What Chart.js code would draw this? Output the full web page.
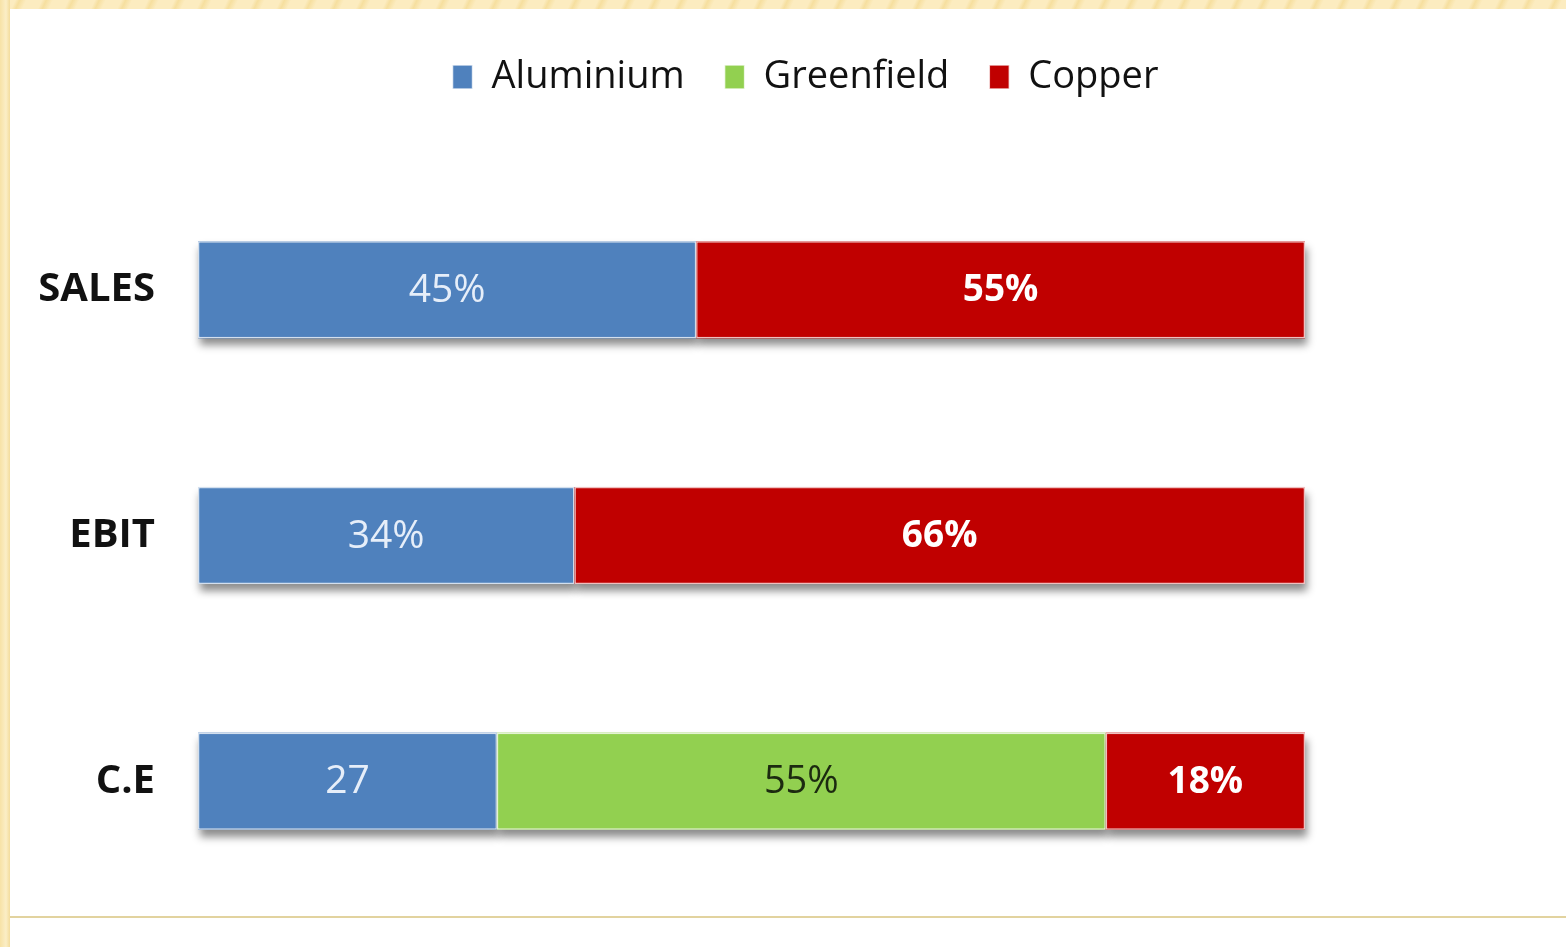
<!DOCTYPE html>
<html>
<head>
<meta charset="utf-8">
<script src="https://cdn.jsdelivr.net/npm/chart.js@4.4.1/dist/chart.umd.min.js"></script>
<style>
  html, body { margin: 0; padding: 0; width: 1566px; height: 947px; overflow: hidden; background: #ffffff; }
  #topband { position: absolute; left: 0; top: 0; width: 1566px; height: 9px;
    background: repeating-linear-gradient(115deg, #fcecc0 0px, #fcecc0 14px, #f6df9f 18px, #fcecc0 24px); }
  #leftband { position: absolute; left: 0; top: 0; width: 10px; height: 947px;
    background: linear-gradient(90deg, #f7e2a6 0%, #fbeec6 60%, #f3dc9c 100%); }
  #bottomline { position: absolute; left: 10px; top: 916px; width: 1556px; height: 2px; background: #e2d39f; }
  #c { position: absolute; left: 0; top: 0; }
</style>
</head>
<body>
<div id="topband"></div>
<div id="leftband"></div>
<div id="bottomline"></div>
<canvas id="c" width="1566" height="947"></canvas>
<script>
// ---- data ----
const categories = ['SALES', 'EBIT', 'C.E'];
const aluminium = [45, 34, 27];
const greenfield = [0, 0, 55];
const copper = [55, 66, 18];
const aluminiumLabels = ['45%', '34%', '27'];
const greenfieldLabels = [null, null, '55%'];
const copperLabels = ['55%', '66%', '18%'];
const seriesNames = ['Aluminium', 'Greenfield', 'Copper'];

const FONT = "'Open Sans', 'DejaVu Sans', sans-serif";

const barShadowAndLabels = {
  id: 'barShadowAndLabels',
  beforeDatasetsDraw(chart) {
    const ctx = chart.ctx;
    chart.data.datasets.forEach((ds, di) => {
      const meta = chart.getDatasetMeta(di);
      meta.data.forEach((el) => {
        const p = el.getProps(['x', 'y', 'base', 'height'], true);
        const w = Math.abs(p.x - p.base);
        if (w < 1) return;
        ctx.save();
        ctx.shadowColor = 'rgba(0,0,0,0.45)';
        ctx.shadowBlur = 8;
        ctx.shadowOffsetX = 2;
        ctx.shadowOffsetY = 7;
        ctx.fillStyle = ds.backgroundColor;
        ctx.fillRect(Math.min(p.x, p.base), p.y - p.height / 2, w, p.height);
        ctx.restore();
      });
    });
  },
  afterDatasetsDraw(chart) {
    const ctx = chart.ctx;
    chart.data.datasets.forEach((ds, di) => {
      const meta = chart.getDatasetMeta(di);
      meta.data.forEach((el, i) => {
        const txt = ds.valueLabels[i];
        if (!txt) return;
        const cx = (el.x + el.base) / 2;
        ctx.save();
        ctx.font = ds.labelFont;
        ctx.fillStyle = ds.labelColor;
        ctx.textAlign = 'center';
        ctx.textBaseline = 'middle';
        ctx.fillText(txt, cx, el.y + 1);
        ctx.restore();
      });
    });
  }
};

const legendShift = {
  id: 'legendShift',
  afterLayout(chart) {
    const lg = chart.legend;
    if (lg) { lg.left += 153; lg.right += 153; }
  }
};

new Chart(document.getElementById('c'), {
  type: 'bar',
  data: {
    labels: categories,
    datasets: [
      { label: seriesNames[0], data: aluminium, valueLabels: aluminiumLabels,
        backgroundColor: '#4f81bd', labelColor: '#e6eef9', labelFont: "400 39px " + FONT },
      { label: seriesNames[1], data: greenfield, valueLabels: greenfieldLabels,
        backgroundColor: '#92d050', labelColor: '#1c2a10', labelFont: "400 38px " + FONT },
      { label: seriesNames[2], data: copper, valueLabels: copperLabels,
        backgroundColor: '#c00000', labelColor: '#ffffff', labelFont: "700 37px " + FONT }
    ]
  },
  options: {
    indexAxis: 'y',
    responsive: false,
    animation: false,
    devicePixelRatio: 1,
    datasets: {
      bar: {
        borderColor: 'rgba(255,255,255,0.75)',
        borderWidth: 1.5,
        borderSkipped: false,
        categoryPercentage: 1,
        barPercentage: 0.395
      }
    },
    layout: { padding: { left: 0, right: 261, top: 18, bottom: 43 } },
    scales: {
      x: {
        position: 'top',
        stacked: true,
        min: 0,
        max: 100,
        grid: { display: false, drawTicks: false },
        border: { display: false },
        ticks: { display: false },
        afterFit(scale) { scale.height = 61; }
      },
      y: {
        stacked: true,
        grid: { display: false, drawTicks: false },
        border: { display: false },
        ticks: {
          color: '#111111',
          padding: 43,
          font: { family: FONT, size: 40, weight: '700' }
        },
        afterFit(scale) { scale.width = 198; scale.paddingTop = 0; scale.paddingBottom = 0; }
      }
    },
    plugins: {
      tooltip: { enabled: false },
      legend: {
        position: 'top',
        labels: {
          color: '#111111',
          boxWidth: 20,
          boxHeight: 24,
          padding: 40,
          font: { family: FONT, size: 38, weight: '400' }
        }
      }
    }
  },
  plugins: [barShadowAndLabels, legendShift]
});
</script>
</body>
</html>
